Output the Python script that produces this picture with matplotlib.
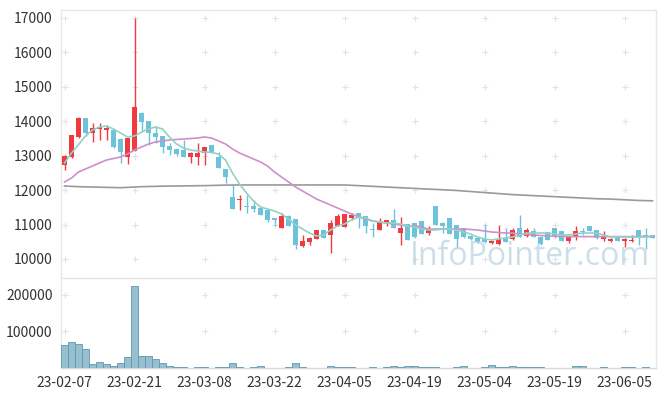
import matplotlib
matplotlib.use("Agg")
import matplotlib.pyplot as plt
import numpy as np
import pandas as pd

# ============================================================
# DATA
# ============================================================

holidays = ["2023-03-01", "2023-05-01", "2023-05-05", "2023-05-29", "2023-06-06"]
dates = [d for d in pd.bdate_range("2023-02-07", "2023-06-12")
         if d.strftime("%Y-%m-%d") not in holidays]

opens = [12740, 12970, 13550, 14100, 13670, 13770, 13750, 13750, 13490, 12950,
         13150, 14230, 14010, 13670, 13570, 13290, 13190, 13170, 12970, 12970,
         13090, 13310, 12950, 12600, 11790, 11700, 11540, 11540, 11470, 11420,
         11180, 10910, 11250, 11150, 10390, 10490, 10590, 10840, 10700, 10960,
         10920, 11200, 11330, 11250, 10870, 10840, 11050, 11130, 10760, 11010,
         11040, 11100, 10760, 11540, 11040, 11180, 10990, 10900, 10670, 10620,
         10570, 10460, 10440, 10620, 10570, 10890, 10670, 10820, 10650, 10790,
         10890, 10820, 10530, 10630, 10800, 10960, 10840, 10580, 10530, 10630,
         10530, 10530, 10840, 10700, 10700]
highs = [13020, 13600, 14130, 14100, 13940, 13940, 13900, 13780, 13520, 13520,
         17000, 14270, 14010, 13860, 13570, 13360, 13200, 13450, 13120, 13360,
         13260, 13310, 13120, 12600, 12150, 11860, 11860, 11710, 11470, 11420,
         11180, 11330, 11280, 11160, 10700, 10650, 10840, 10840, 11130, 11310,
         11310, 11330, 11330, 11250, 11040, 11180, 11130, 11440, 11210, 11010,
         11040, 11100, 10950, 11540, 11080, 11180, 10990, 10900, 10700, 10620,
         11020, 10530, 10990, 10890, 10900, 11280, 10900, 10890, 10650, 10790,
         10890, 10820, 10680, 10960, 10900, 10960, 10840, 10820, 10620, 10630,
         10620, 10700, 10840, 10890, 10700]
lows = [12580, 12930, 13520, 13570, 13410, 13450, 13460, 13210, 12800, 12760,
        13150, 13690, 13310, 13360, 13090, 13020, 12990, 12970, 12800, 12730,
        12730, 13070, 12640, 12200, 11440, 11420, 11350, 11370, 11270, 11080,
        10950, 10890, 10950, 10280, 10360, 10400, 10590, 10600, 10160, 10950,
        10920, 11130, 10890, 10750, 10650, 10840, 10950, 10890, 10400, 10550,
        10600, 10720, 10700, 10990, 10750, 10720, 10310, 10600, 10540, 10470,
        10460, 10440, 10420, 10500, 10560, 10640, 10630, 10650, 10420, 10550,
        10620, 10530, 10450, 10560, 10700, 10820, 10580, 10530, 10500, 10530,
        10360, 10480, 10410, 10280, 10600]
closes = [12990, 13600, 14100, 13650, 13800, 13820, 13800, 13250, 13100, 13500,
          14400, 13990, 13650, 13550, 13260, 13170, 13050, 12970, 13070, 13070,
          13260, 13080, 12650, 12390, 11440, 11750, 11500, 11460, 11280, 11130,
          11130, 11250, 10950, 10410, 10520, 10610, 10840, 10600, 11050, 11250,
          11300, 11280, 11230, 10960, 10840, 11080, 11130, 10890, 10910, 10550,
          10650, 10720, 10860, 10990, 10970, 10720, 10570, 10640, 10580, 10480,
          10500, 10530, 10570, 10500, 10840, 10650, 10840, 10650, 10440, 10550,
          10630, 10530, 10650, 10820, 10770, 10820, 10600, 10670, 10580, 10530,
          10580, 10550, 10650, 10630, 10600]
volumes = [63800, 72000, 65700, 52000, 11000, 17000, 11000, 6300, 13700, 31000,
           222700, 32800, 32800, 24600, 13700, 5500, 2700, 2700, 0, 2700,
           2700, 0, 2700, 2700, 13700, 2700, 0, 2700, 6300, 0,
           0, 0, 2700, 13700, 2700, 0, 0, 0, 6300, 2700,
           2700, 2700, 0, 0, 2700, 0, 2700, 5500, 2700, 5500,
           5500, 2700, 2700, 2700, 0, 0, 2700, 5500, 0, 0,
           2700, 8200, 2700, 2700, 5500, 2700, 2700, 2700, 2700, 0,
           0, 0, 0, 5500, 5500, 0, 0, 2700, 0, 0,
           2700, 2700, 0, 2700, 0]

# moving averages
ma5 = [12788, 13078, 13322, 13572, 13746, 13833, 13862, 13775, 13659, 13543,
       13572, 13688, 13775, 13833, 13775, 13543, 13340, 13223, 13165, 13136,
       13107, 13093, 13049, 12875, 12497, 12178, 11917, 11684, 11510, 11452,
       11394, 11307, 11162, 10987, 10871, 10755, 10668, 10697, 10842, 10958,
       11017, 11133, 11220, 11191, 11104, 11075, 11046, 11046, 11017, 10958,
       10929, 10871, 10842, 10842, 10871, 10871, 10842, 10784, 10726, 10639,
       10581, 10552, 10581, 10610, 10639, 10697, 10755, 10755, 10755, 10755,
       10726, 10697, 10697, 10726, 10755, 10755, 10755, 10697, 10639, 10639,
       10639, 10639, 10639, 10639, 10668]
ma20 = [12236, 12352, 12526, 12614, 12700, 12788, 12875, 12918, 12962, 13049,
        13165, 13252, 13340, 13398, 13427, 13456, 13470, 13485, 13499, 13514,
        13543, 13514, 13427, 13340, 13194, 13078, 12991, 12904, 12817, 12700,
        12526, 12381, 12236, 12091, 11975, 11859, 11742, 11655, 11568, 11481,
        11394, 11307, 11220, 11162, 11104, 11075, 11046, 11017, 10987, 10958,
        10958, 10929, 10871, 10871, 10871, 10871, 10871, 10871, 10857, 10842,
        10813, 10784, 10770, 10755, 10755, 10726, 10711, 10697, 10682, 10668,
        10660, 10655, 10650, 10650, 10650, 10650, 10650, 10650, 10650, 10650,
        10650, 10650, 10650, 10650, 10650]
ma120 = [12120, 12110, 12100, 12095, 12090, 12085, 12080, 12075, 12070, 12080,
         12090, 12100, 12105, 12110, 12115, 12118, 12120, 12122, 12125, 12128,
         12130, 12135, 12140, 12145, 12148, 12150, 12150, 12150, 12150, 12150,
         12150, 12150, 12150, 12150, 12150, 12150, 12150, 12150, 12150, 12150,
         12150, 12140, 12130, 12120, 12110, 12100, 12090, 12080, 12070, 12060,
         12050, 12040, 12030, 12020, 12010, 12000, 11990, 11975, 11960, 11945,
         11930, 11915, 11900, 11885, 11870, 11860, 11850, 11840, 11830, 11820,
         11810, 11800, 11790, 11780, 11770, 11760, 11750, 11745, 11740, 11730,
         11720, 11710, 11700, 11695, 11690]

price_ticks = [10000, 11000, 12000, 13000, 14000, 15000, 16000, 17000]
vol_ticks = [100000, 200000]

# ============================================================
# STYLE
# ============================================================

UP = "#ef3a3f"
DOWN = "#6cc3da"
EDGE = "#e6e6e6"
CROSS = "#e3e3e3"
plt.rcParams["font.family"] = ["Noto Sans CJK KR", "DejaVu Sans"]

fig = plt.figure(figsize=(6.65, 3.96), dpi=100)
ax = fig.add_axes([61 / 665, 1 - 278 / 396, 595 / 665, 268 / 396])
axv = fig.add_axes([61 / 665, 1 - 368 / 396, 595 / 665, 90 / 396], sharex=ax)

x = np.arange(len(dates))
o = np.array(opens)
h = np.array(highs)
l = np.array(lows)
c = np.array(closes)
up = c >= o
colors = np.where(up, UP, DOWN)

# ============================================================
# PRICE PANEL
# ============================================================

ax.vlines(x, l, h, colors=colors, lw=1.0, zorder=2)
ax.bar(x, np.maximum(np.abs(c - o), 25), bottom=np.minimum(o, c), width=0.7,
       color=colors, zorder=3)

ax.plot(x, ma120, color="#9a9a9a", lw=1.2, zorder=4)
ax.plot(x, ma20, color="#cf8fca", lw=1.2, zorder=4)
ax.plot(x, ma5, color="#93d1c5", lw=1.2, zorder=4)

ax.set_ylim(9448, 17231)
ax.set_yticks(price_ticks)
ax.set_yticklabels([str(v) for v in price_ticks])

ax.text(0.99, 0.02, "InfoPointer.com", transform=ax.transAxes,
        ha="right", va="bottom", fontsize=23, color="#bcd3e0", alpha=0.75,
        family="Open Sans", zorder=5)

# ============================================================
# VOLUME PANEL
# ============================================================

axv.bar(x, volumes, width=0.9, color="#97bfcf", edgecolor="#5f97b0",
        lw=0.6, zorder=3)
axv.set_ylim(0, 245000)
axv.set_yticks(vol_ticks)
axv.set_yticklabels([str(v) for v in vol_ticks])

tick_pos = list(range(0, len(dates), 10))
axv.set_xticks(tick_pos)
axv.set_xticklabels([dates[i].strftime("%y-%m-%d") for i in tick_pos])
axv.set_xlim(-0.5, len(dates) - 0.5)

# frames and grid crosses
for a, yt in [(ax, price_ticks), (axv, vol_ticks)]:
    for s in a.spines.values():
        s.set_color(EDGE)
        s.set_linewidth(1.0)
    a.tick_params(length=0, labelsize=10, colors="#333333", pad=6)
    xx, yy = np.meshgrid(tick_pos, yt)
    a.plot(xx.ravel(), yy.ravel(), "+", color=CROSS, ms=5, mew=0.8, zorder=1)
axv.spines["bottom"].set_color("#d8d8d8")
plt.setp(ax.get_xticklabels(), visible=False)

fig.savefig("out.png", dpi=100)
